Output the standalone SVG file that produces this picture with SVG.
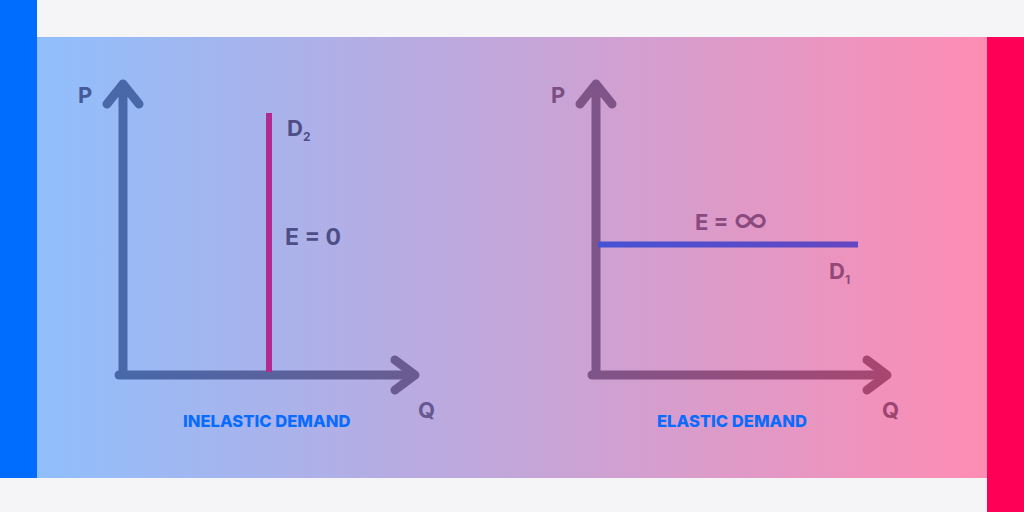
<svg xmlns="http://www.w3.org/2000/svg" width="1024" height="512" viewBox="0 0 1024 512">
<defs>
<linearGradient id="bg" x1="37" y1="0" x2="987" y2="0" gradientUnits="userSpaceOnUse">
<stop offset="0" stop-color="#90bffc"/>
<stop offset="0.5" stop-color="#c3a6da"/>
<stop offset="1" stop-color="#fe8cb3"/>
</linearGradient>
<linearGradient id="axL" x1="123" y1="0" x2="418" y2="0" gradientUnits="userSpaceOnUse">
<stop offset="0" stop-color="#4868a8"/>
<stop offset="1" stop-color="#6a5c92"/>
</linearGradient>
<linearGradient id="axR" x1="596" y1="0" x2="890" y2="0" gradientUnits="userSpaceOnUse">
<stop offset="0" stop-color="#7f5488"/>
<stop offset="1" stop-color="#a84672"/>
</linearGradient>
<linearGradient id="d1" x1="598" y1="0" x2="858" y2="0" gradientUnits="userSpaceOnUse">
<stop offset="0" stop-color="#4452d4"/>
<stop offset="1" stop-color="#6446c0"/>
</linearGradient>
<style>
.ax{fill:none;stroke-width:9;stroke-linecap:round;stroke-linejoin:round}
.lbl{font-family:Inter,"Liberation Sans",sans-serif;font-weight:700}
.cap{font-family:Inter,"Liberation Sans",sans-serif;font-weight:800;font-size:16.6px;fill:#0a6cff}
</style>
</defs>
<rect width="1024" height="512" fill="#f5f5f7"/>
<rect x="37" y="37" width="950" height="441" fill="url(#bg)"/>
<rect x="0" y="0" width="37" height="478" fill="#006dfe"/>
<rect x="987" y="37" width="37" height="475" fill="#fe0157"/>

<g id="connectors">
<g id="left-axes">
<path class="ax" stroke="#4868a8" d="M123 374 V84 M107 104 L123 84 L139 104"/>
<path class="ax" stroke="url(#axL)" stroke-linecap="butt" d="M119 375 H414"/>
<path class="ax" stroke="#6a5c92" d="M395 360 L415 375 L395 390"/>
</g>
<line x1="269" y1="113" x2="269" y2="372" stroke="#b12a90" stroke-width="6"/>
<g id="right-axes">
<path class="ax" stroke="#7f5488" d="M596 374 V84 M580 104 L596 84 L612 104"/>
<path class="ax" stroke="url(#axR)" stroke-linecap="butt" d="M592 375 H886"/>
<path class="ax" stroke="#a84672" d="M867 360 L887 375 L867 390"/>
</g>
<line x1="598" y1="244.5" x2="858" y2="244.5" stroke="url(#d1)" stroke-width="6"/>
</g>

<g id="left-chart">
<text class="lbl" x="78" y="103" font-size="22" fill="#465a98">P</text>
<text class="lbl" x="418" y="418" font-size="22" fill="#665890">Q</text>
<text class="lbl" x="287" y="136" font-size="22" fill="#4e4e86">D<tspan font-size="12" dy="5">2</tspan></text>
<text class="lbl" x="285" y="245" font-size="23" fill="#4e4e86">E = 0</text>
<text class="cap" x="183" y="427">INELASTIC DEMAND</text>
</g>
<g id="right-chart">
<text class="lbl" x="551" y="103" font-size="22" fill="#7c4e82">P</text>
<text class="lbl" x="882" y="418" font-size="22" fill="#9e4470">Q</text>
<text class="lbl" x="695" y="230" font-size="22" fill="#8a4a7e">E = <tspan font-size="36" font-weight="400" dy="2">∞</tspan></text>
<text class="lbl" x="829" y="279" font-size="22" fill="#934878">D<tspan font-size="12" dy="5">1</tspan></text>
<text class="cap" x="657" y="427">ELASTIC DEMAND</text>
</g>
</svg>
